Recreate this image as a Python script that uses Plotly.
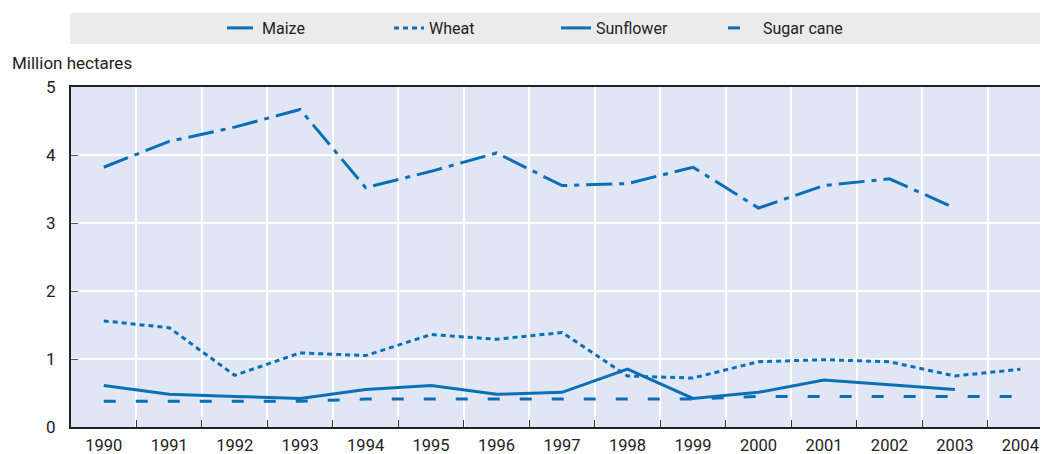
import plotly.graph_objects as go

years = [str(y) for y in range(1990, 2005)]
maize = [3.82, 4.20, 4.41, 4.67, 3.52, 3.76, 4.03, 3.55, 3.58, 3.82, 3.22, 3.55, 3.65, 3.22, None]
wheat = [1.56, 1.46, 0.76, 1.09, 1.05, 1.36, 1.29, 1.39, 0.75, 0.72, 0.96, 0.99, 0.96, 0.75, 0.85]
sunflower = [0.61, 0.48, 0.45, 0.42, 0.55, 0.61, 0.48, 0.51, 0.85, 0.42, 0.51, 0.69, 0.62, 0.55, None]
sugar_cane = [0.38, 0.38, 0.38, 0.38, 0.41, 0.41, 0.41, 0.41, 0.41, 0.41, 0.45, 0.45, 0.45, 0.45, 0.45]

series = [
    ("Maize", maize, "26px,7px,5px,7px"),
    ("Wheat", wheat, "5px,4px"),
    ("Sunflower", sunflower, "solid"),
    ("Sugar cane", sugar_cane, "12px,20px"),
]

BLUE = "#0B6FB8"
FONT = "Roboto, Liberation Sans, sans-serif"

fig = go.Figure()
for name, vals, dash in series:
    fig.add_trace(go.Scatter(
        x=years, y=vals, name=name, mode="lines",
        line=dict(color=BLUE, width=3, dash=dash),
        connectgaps=False,
    ))

W, H = 1041, 454
L, R, T, B = 71, 1, 87, 27
pw = W - L - R
ph = H - T - B

def py(pix):
    return (H - B - pix) / ph

def px(pix):
    return (pix - L) / pw

fig.update_layout(
    width=W, height=H,
    margin=dict(l=L, r=R, t=T, b=B, autoexpand=False),
    paper_bgcolor="white",
    plot_bgcolor="#E0E6F4",
    font=dict(family=FONT, size=17, color="#222222"),
    showlegend=True,
    legend=dict(
        orientation="h", x=px(222), xanchor="left", y=py(28), yanchor="middle",
        bgcolor="rgba(0,0,0,0)", font=dict(size=16),
        entrywidth=122, entrywidthmode="pixels",
    ),
    shapes=[dict(
        type="rect", xref="paper", yref="paper",
        x0=px(70), x1=1.0, y0=py(44), y1=py(13),
        fillcolor="#EBEBEB", line=dict(width=0), layer="below",
    )],
    annotations=[dict(
        text="Million hectares", xref="paper", yref="paper",
        x=px(10), y=py(63), xanchor="left", yanchor="middle",
        showarrow=False, font=dict(size=17),
    )],
)

fig.update_xaxes(
    type="category", range=[-0.5, 14.3],
    tickson="boundaries", ticks="inside", ticklen=7, tickcolor="#333333",
    showgrid=True, gridcolor="white", gridwidth=1.5,
    showline=True, linecolor="#222222", linewidth=2, mirror=True,
    ticklabelstandoff=2, automargin=False, tickfont=dict(size=16.5),
)
fig.update_yaxes(
    range=[0, 5], tickvals=[0, 1, 2, 3, 4, 5],
    ticks="inside", ticklen=7, tickcolor="#555555",
    showgrid=True, gridcolor="white", gridwidth=1.5,
    showline=True, linecolor="#222222", linewidth=2,
    zeroline=False, ticklabelstandoff=10, automargin=False,
)

# Remove the default page margin so the figure fills the window exactly.
fig.write_html(
    "out.html",
    config={"displayModeBar": False},
    post_script="document.body.style.margin='0';"
                "document.documentElement.style.overflow='hidden';"
                "document.body.style.overflow='hidden';",
)
